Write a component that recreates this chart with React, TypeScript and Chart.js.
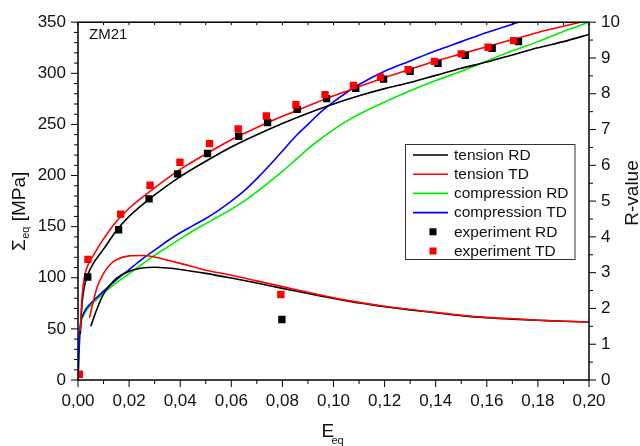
import React, { useEffect, useRef } from "react";
import { Chart, registerables } from "chart.js";

Chart.register(...registerables);

const FONT = "'Liberation Sans', Arial, Helvetica, sans-serif";

// ---- Stress model curves (left axis, MPa) ----
const tensionStrain = [0.0009, 0.0015, 0.002, 0.003, 0.004, 0.006, 0.01, 0.015, 0.02, 0.03, 0.04, 0.05, 0.06, 0.07, 0.08, 0.09, 0.10, 0.11, 0.12, 0.13, 0.14, 0.15, 0.16, 0.17, 0.18, 0.19, 0.20];
const tensionRDStress = [45, 72, 84, 97, 104, 114, 128, 146, 160, 181, 199, 214, 228, 240, 251, 261, 270, 278, 285, 291, 298, 305, 311, 318, 325, 331, 338];
const tensionTDStress = [48, 78, 92, 106, 113, 122, 138, 155, 168, 188, 206, 221, 235, 247, 258, 268, 278, 287, 296, 304, 312, 319, 326, 333, 340, 346, 352];

const compressionStrain = [0, 0.0003, 0.0006, 0.001, 0.002, 0.003, 0.005, 0.0075, 0.01, 0.015, 0.02, 0.025, 0.03, 0.035, 0.04, 0.045, 0.05, 0.055, 0.06, 0.065, 0.07, 0.075, 0.08, 0.085, 0.09, 0.095, 0.10, 0.105, 0.11, 0.12, 0.13, 0.14, 0.15, 0.16, 0.17, 0.18, 0.19, 0.20];
const compressionRDStress = [0, 20, 40, 54, 62, 67, 73, 79, 85, 95, 104, 113, 122, 130, 138, 146, 153, 160, 167, 175, 184, 194, 204, 215, 226, 236, 245, 253, 260, 272, 283, 293, 302, 312, 322, 331, 341, 350];
const compressionTDStress = [0, 20, 40, 55, 64, 69, 75, 81, 87, 98, 108, 118, 127, 136, 144, 151, 158, 166, 175, 185, 197, 210, 224, 238, 250, 262, 272, 281, 289, 302, 312, 322, 331, 340, 348, 356, 363, 370];

// ---- R-value model curves (right axis) ----
const rRDStrain = [0.005, 0.0075, 0.01, 0.0125, 0.015, 0.02, 0.025, 0.03, 0.035, 0.04, 0.05, 0.06, 0.07, 0.08, 0.09, 0.10, 0.11, 0.12, 0.13, 0.14, 0.15, 0.16, 0.17, 0.18, 0.19, 0.20];
const rRDValue = [1.5, 2.0, 2.4, 2.65, 2.84, 3.04, 3.13, 3.15, 3.13, 3.09, 2.98, 2.85, 2.71, 2.56, 2.42, 2.28, 2.15, 2.05, 1.96, 1.88, 1.8, 1.74, 1.7, 1.67, 1.64, 1.62];
const rTDStrain = [0.0045, 0.006, 0.0075, 0.01, 0.0125, 0.015, 0.02, 0.025, 0.03, 0.035, 0.04, 0.05, 0.06, 0.07, 0.08, 0.09, 0.10, 0.11, 0.12, 0.13, 0.14, 0.15, 0.16, 0.17, 0.18, 0.19, 0.20];
const rTDValue = [1.74, 2.2, 2.6, 2.98, 3.22, 3.36, 3.47, 3.48, 3.44, 3.35, 3.26, 3.07, 2.93, 2.77, 2.61, 2.45, 2.3, 2.17, 2.06, 1.97, 1.89, 1.81, 1.75, 1.71, 1.67, 1.64, 1.62];

// ---- Experiments (stress, left axis) ----
const expRDStrain = [0.0038, 0.0159, 0.0278, 0.039, 0.0507, 0.0629, 0.0742, 0.0858, 0.0973, 0.1087, 0.1196, 0.130, 0.1409, 0.1516, 0.1621, 0.1724];
const expRDStress = [100.8, 147, 177.2, 201.7, 221.6, 238.4, 251.9, 264.7, 275.3, 285.3, 294.3, 302, 309.7, 317.7, 324.5, 331];
const expTDStrain = [0.0005, 0.0039, 0.0167, 0.0282, 0.0399, 0.0515, 0.0627, 0.0737, 0.0853, 0.0967, 0.1078, 0.1184, 0.1292, 0.1395, 0.150, 0.1605, 0.1705];
const expTDStress = [5.6, 118, 162.2, 190.5, 213, 231.2, 245.7, 258.2, 269.2, 279.2, 288.1, 296.2, 303.6, 311.7, 319, 325.5, 332];

// ---- Experiments (R-value, right axis) ----
const expRRDStrain = [0.0798];
const expRRDValue = [1.69];
const expRTDStrain = [0.0794];
const expRTDValue = [2.39];

const legendLabels = ["tension RD", "tension TD", "compression RD", "compression TD", "experiment RD", "experiment TD"];

const pts = (xs: number[], ys: number[]) => xs.map((x, i) => ({ x, y: ys[i] }));

function lineDs(label: string, xs: number[], ys: number[], color: string, axis: string, order: number, legendRow: number) {
  return {
    label,
    data: pts(xs, ys),
    borderColor: color,
    backgroundColor: color,
    borderWidth: 1.6,
    pointRadius: 0,
    showLine: true,
    cubicInterpolationMode: "monotone",
    yAxisID: axis,
    order,
    legendRow,
    kind: "line",
  };
}

function pointDs(label: string, xs: number[], ys: number[], color: string, axis: string, order: number, legendRow: number) {
  return {
    label,
    data: pts(xs, ys),
    borderColor: color,
    backgroundColor: color,
    borderWidth: 0,
    pointRadius: 5.2,
    pointStyle: "rect",
    showLine: false,
    yAxisID: axis,
    order,
    legendRow,
    kind: "point",
  };
}

const overlayPlugin = {
  id: "overlay",
  afterDraw(chart: any) {
    const { ctx, chartArea: a, scales } = chart;
    const sx = scales.x, sy = scales.y, sy1 = scales.y1;
    ctx.save();
    ctx.strokeStyle = "#000";
    ctx.lineWidth = 1.5;
    ctx.strokeRect(a.left, a.top, a.right - a.left, a.bottom - a.top);
    ctx.lineWidth = 1;
    const line = (x1: number, y1: number, x2: number, y2: number) => {
      ctx.beginPath();
      ctx.moveTo(x1, y1);
      ctx.lineTo(x2, y2);
      ctx.stroke();
    };
    for (let v = 0; v <= 350; v += 10) {
      const p = sy.getPixelForValue(v);
      line(a.left - (v % 50 === 0 ? 7 : 4), p, a.left, p);
    }
    for (let i = 0; i <= 20; i++) {
      const p = sy1.getPixelForValue(i * 0.5);
      line(a.right, p, a.right + (i % 2 === 0 ? 7 : 4), p);
    }
    for (let i = 0; i <= 20; i++) {
      const p = sx.getPixelForValue(i * 0.01);
      line(p, a.bottom, p, a.bottom + (i % 2 === 0 ? 7 : 4));
      line(p, a.top, p, a.top + 3);
    }

    ctx.fillStyle = "#111";
    ctx.textBaseline = "alphabetic";
    ctx.font = `15px ${FONT}`;
    ctx.textAlign = "left";
    ctx.fillText("ZM21", 89, 39);

    // x title
    ctx.font = `19px ${FONT}`;
    ctx.fillText("E", 321.5, 437);
    ctx.font = `11px ${FONT}`;
    ctx.fillText("eq", 331.5, 443.5);

    // left title
    ctx.save();
    ctx.translate(24.5, 251);
    ctx.rotate(-Math.PI / 2);
    ctx.textAlign = "left";
    ctx.font = `19px ${FONT}`;
    ctx.fillText("\u03A3", 0, 0);
    let w = ctx.measureText("\u03A3").width;
    ctx.font = `11px ${FONT}`;
    ctx.fillText("eq", w + 0.5, 4.5);
    w += ctx.measureText("eq").width + 0.5;
    ctx.font = `19px ${FONT}`;
    ctx.fillText(" [MPa]", w, 0);
    ctx.restore();

    // right title
    ctx.save();
    ctx.translate(638, 193);
    ctx.rotate(-Math.PI / 2);
    ctx.textAlign = "center";
    ctx.font = `19px ${FONT}`;
    ctx.fillText("R-value", 0, 0);
    ctx.restore();

    // legend
    const lx = 405.5, ly = 144.5, lw = 169.5, lh = 115;
    ctx.fillStyle = "#fff";
    ctx.fillRect(lx, ly, lw, lh);
    ctx.strokeStyle = "#333";
    ctx.lineWidth = 1;
    ctx.strokeRect(lx, ly, lw, lh);
    const rows: any[] = [];
    chart.data.datasets.forEach((ds: any) => {
      if (ds.legendRow >= 0 && !rows[ds.legendRow]) rows[ds.legendRow] = ds;
    });
    ctx.font = `15.5px ${FONT}`;
    ctx.textAlign = "left";
    ctx.textBaseline = "middle";
    rows.forEach((ds: any, i: number) => {
      const cy = 155 + i * 19.2;
      if (ds.kind === "line") {
        ctx.strokeStyle = ds.borderColor;
        ctx.lineWidth = 1.6;
        line(413, cy, 448, cy);
      } else {
        ctx.fillStyle = ds.backgroundColor;
        ctx.fillRect(429.5, cy - 3.5, 7, 7);
      }
      ctx.fillStyle = "#111";
      ctx.fillText(ds.label, 454, cy + 0.5);
    });
    ctx.restore();
  },
};

export default function App() {
  const ref = useRef<HTMLCanvasElement | null>(null);

  useEffect(() => {
    if (!ref.current) return;
    const datasets: any[] = [
      pointDs(legendLabels[5], expTDStrain, expTDStress, "#ff0000", "y", 0, 5),
      pointDs(legendLabels[4], expRDStrain, expRDStress, "#000000", "y", 1, 4),
      pointDs(legendLabels[5], expRTDStrain, expRTDValue, "#ff0000", "y1", 0, -1),
      pointDs(legendLabels[4], expRRDStrain, expRRDValue, "#000000", "y1", 1, -1),
      lineDs(legendLabels[1], tensionStrain, tensionTDStress, "#ff0000", "y", 2, 1),
      lineDs(legendLabels[0], tensionStrain, tensionRDStress, "#000000", "y", 3, 0),
      lineDs(legendLabels[1], rTDStrain, rTDValue, "#ff0000", "y1", 2, -1),
      lineDs(legendLabels[0], rRDStrain, rRDValue, "#000000", "y1", 3, -1),
      lineDs(legendLabels[3], compressionStrain, compressionTDStress, "#0000ff", "y", 4, 3),
      lineDs(legendLabels[2], compressionStrain, compressionRDStress, "#00ee00", "y", 5, 2),
    ];
    const tickFont = { family: FONT, size: 17 };
    const chart = new Chart(ref.current, {
      type: "scatter",
      data: { datasets },
      options: {
        responsive: false,
        animation: false,
        devicePixelRatio: 1,
        layout: { padding: { top: 17, left: 0, right: 0, bottom: 0 } },
        plugins: { legend: { display: false }, tooltip: { enabled: false }, title: { display: false } },
        scales: {
          x: {
            type: "linear",
            min: 0,
            max: 0.2,
            grid: { display: false, drawTicks: false },
            border: { display: false },
            ticks: {
              stepSize: 0.02,
              padding: 11,
              color: "#111",
              font: tickFont,
              maxRotation: 0,
              autoSkip: false,
              callback: (v: any) => Number(v).toFixed(2).replace(".", ","),
            },
            afterFit: (s: any) => { s.height = 66; },
          },
          y: {
            type: "linear",
            position: "left",
            min: 0,
            max: 350,
            grid: { display: false, drawTicks: false },
            border: { display: false },
            ticks: { stepSize: 50, padding: 12, color: "#111", font: tickFont },
            afterFit: (s: any) => { s.width = 78; },
          },
          y1: {
            type: "linear",
            position: "right",
            min: 0,
            max: 10,
            grid: { display: false, drawTicks: false },
            border: { display: false },
            ticks: { stepSize: 1, padding: 12, color: "#111", font: tickFont },
            afterFit: (s: any) => { s.width = 51; },
          },
        },
      } as any,
      plugins: [overlayPlugin],
    });
    return () => chart.destroy();
  }, []);

  return (
    <div style={{ position: "absolute", left: 0, top: 0, width: 640, height: 446, background: "#fff" }}>
      <canvas ref={ref} width={640} height={446} style={{ display: "block" }} />
    </div>
  );
}
